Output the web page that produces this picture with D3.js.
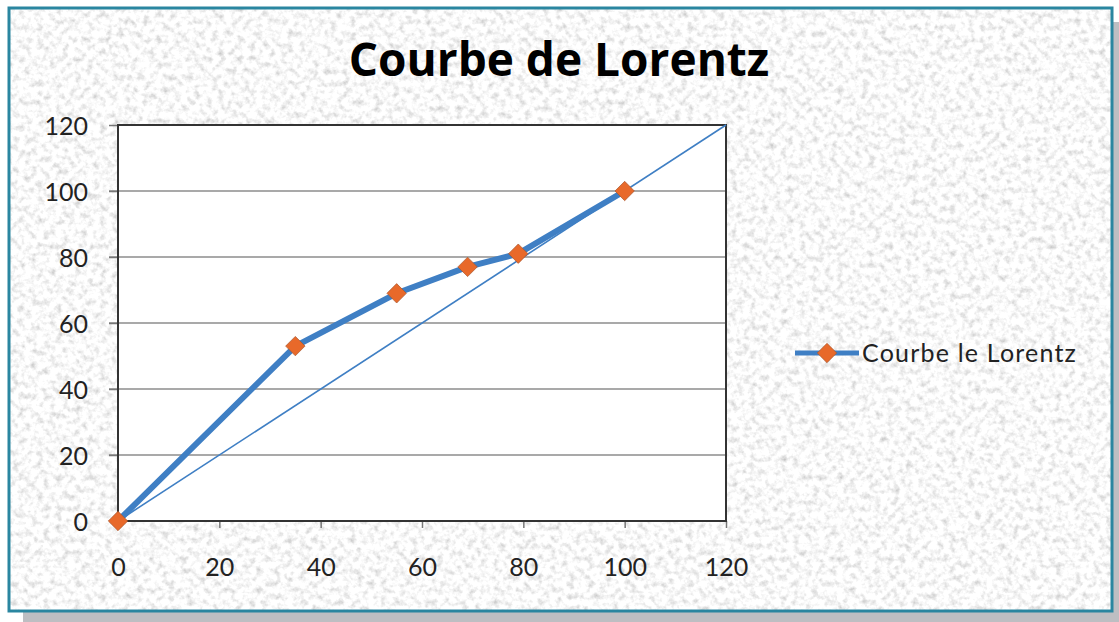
<!DOCTYPE html>
<html>
<head>
<meta charset="utf-8">
<script src="https://cdn.jsdelivr.net/npm/d3@7"></script>
<style>
  body { margin: 0; background: #fff; }
  text { font-family: Lato, "Open Sans", sans-serif; }
</style>
</head>
<body>
<svg id="chart" width="1119" height="622"></svg>
<script>
var svg = d3.select("#chart");

// data
var xValues = [0, 35, 55, 69, 79, 100];
var yValues = [0, 53, 69, 77, 81, 100];
var equality = [0, 120];
var tickValues = [0, 20, 40, 60, 80, 100, 120];
var seriesName = "Courbe le Lorentz";
var title = "Courbe de Lorentz";

var points = xValues.map((x, i) => ({x: x, y: yValues[i]}));

// granite-ish texture
var defs = svg.append("defs");
var filt = defs.append("filter").attr("id", "granite")
  .attr("x", 0).attr("y", 0).attr("width", "100%").attr("height", "100%");
filt.append("feTurbulence")
  .attr("type", "fractalNoise").attr("baseFrequency", 0.16)
  .attr("numOctaves", 3).attr("seed", 7).attr("result", "noise");
filt.append("feColorMatrix").attr("in", "noise").attr("type", "matrix")
  .attr("values", "0.85 0 0 0 0.53  0.85 0 0 0 0.53  0.85 0 0 0 0.53  0 0 0 0 1");

// shadow
svg.append("rect").attr("x", 23).attr("y", 22).attr("width", 1096).attr("height", 600).attr("fill", "#bdbec2");

// frame
svg.append("rect").attr("x", 9).attr("y", 8).attr("width", 1103).attr("height", 603)
  .attr("fill", "#eee").attr("filter", "url(#granite)");
svg.append("rect").attr("x", 9).attr("y", 8).attr("width", 1103).attr("height", 603)
  .attr("fill", "none").attr("stroke", "#2a86a0").attr("stroke-width", 3);

// title
svg.append("text")
  .attr("x", 559).attr("y", 76)
  .attr("text-anchor", "middle")
  .style("font-family", "'Open Sans', sans-serif")
  .style("font-size", "46px").style("font-weight", "bold")
  .attr("fill", "#000")
  .text(title);

var plotLeft = 118, plotRight = 726, plotTop = 125, plotBottom = 521;
var x = d3.scaleLinear().domain([0, 120]).range([plotLeft, plotRight]);
var y = d3.scaleLinear().domain([0, 120]).range([plotBottom, plotTop]);

// plot area
svg.append("rect").attr("x", plotLeft).attr("y", plotTop)
  .attr("width", plotRight - plotLeft).attr("height", plotBottom - plotTop).attr("fill", "#fff");

// gridlines
svg.append("g").selectAll("line")
  .data(tickValues.filter(d => d > 0 && d < 120))
  .enter().append("line")
    .attr("x1", plotLeft - 9).attr("x2", plotRight)
    .attr("y1", d => y(d)).attr("y2", d => y(d))
    .attr("stroke", "#8c8c8c").attr("stroke-width", 1.5);

// axes
var xAxis = svg.append("g").attr("transform", "translate(0," + plotBottom + ")")
  .call(d3.axisBottom(x).tickValues(tickValues).tickSize(7).tickPadding(30));
var yAxis = svg.append("g").attr("transform", "translate(" + plotLeft + ",0)")
  .call(d3.axisLeft(y).tickValues(tickValues).tickSize(9).tickPadding(21));
[xAxis, yAxis].forEach(a => {
  a.select(".domain").remove();
  a.selectAll(".tick line").attr("stroke", "#777").attr("stroke-width", 1.5);
  a.selectAll("text").style("font-size", "25px").attr("fill", "#222")
    .style("font-family", "Lato, 'Open Sans', sans-serif");
});
yAxis.select(".tick:first-of-type line").remove();
yAxis.selectAll("text").attr("dy", "0.36em");

// plot border
svg.append("rect").attr("x", plotLeft).attr("y", plotTop)
  .attr("width", plotRight - plotLeft).attr("height", plotBottom - plotTop)
  .attr("fill", "none").attr("stroke", "#333").attr("stroke-width", 2);

// diagonal
svg.append("line")
  .attr("x1", x(equality[0])).attr("y1", y(equality[0]))
  .attr("x2", x(equality[1])).attr("y2", y(equality[1]))
  .attr("stroke", "#3f7fc4").attr("stroke-width", 1.6);

// curve
var line = d3.line().x(d => x(d.x)).y(d => y(d.y));
svg.append("path").datum(points)
  .attr("d", line)
  .attr("fill", "none").attr("stroke", "#3f7fc4").attr("stroke-width", 6)
  .attr("stroke-linejoin", "round");

var diamond = d3.symbol().type(d3.symbolDiamond2).size(240);
svg.append("g").selectAll("path")
  .data(points)
  .enter().append("path")
    .attr("d", diamond)
    .attr("transform", d => "translate(" + x(d.x) + "," + y(d.y) + ")")
    .attr("fill", "#e8692a").attr("stroke", "#a8562e").attr("stroke-width", 0.7);

// legend
var lg = svg.append("g").attr("transform", "translate(795,353)");
lg.append("line").attr("x1", 0).attr("x2", 64).attr("y1", 0).attr("y2", 0)
  .attr("stroke", "#3f7fc4").attr("stroke-width", 5);
lg.append("path").attr("d", diamond).attr("transform", "translate(32,0)")
  .attr("fill", "#e8692a").attr("stroke", "#a8562e").attr("stroke-width", 0.7);
lg.append("text").attr("x", 67).attr("y", 9)
  .style("font-size", "25px").style("letter-spacing", "1.2px").attr("fill", "#222")
  .text(seriesName);
</script>
</body>
</html>
